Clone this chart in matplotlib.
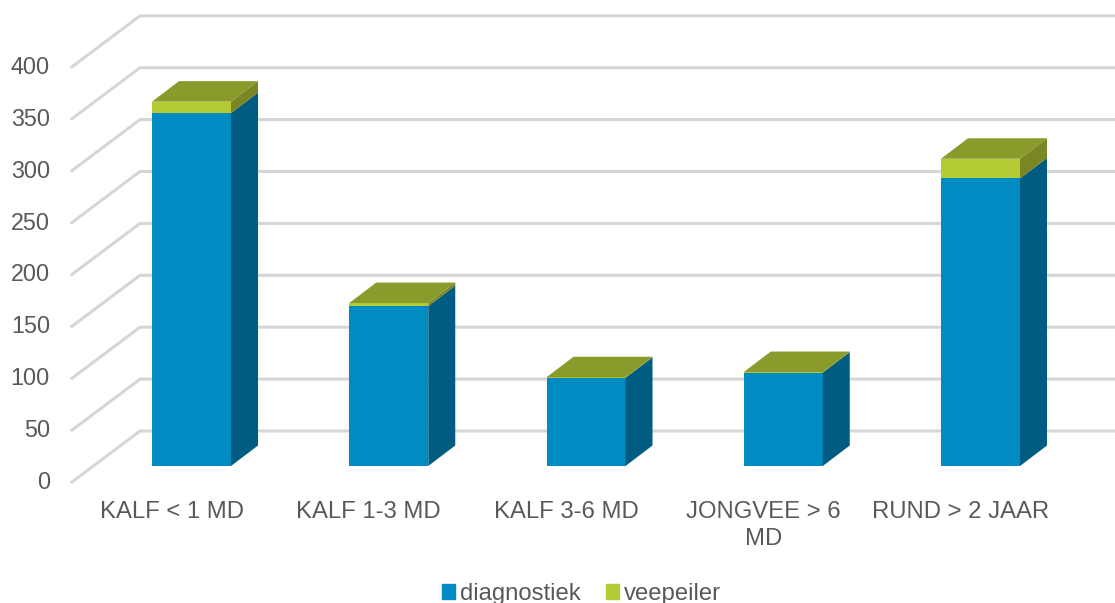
import matplotlib.pyplot as plt
from matplotlib.patches import Patch

categories = ['KALF < 1 MD', 'KALF 1-3 MD', 'KALF 3-6 MD', 'JONGVEE > 6\nMD', 'RUND > 2 JAAR']
diagnostiek = [340, 154, 85, 90, 277]
veepeiler = [11, 3, 0.5, 0.5, 19]
y_ticks = [0, 50, 100, 150, 200, 250, 300, 350, 400]

BLUE = '#008cc3'
BLUE_SIDE = '#005c80'
GREEN = '#b5cb35'
GREEN_TOP = '#8a9a2b'
GREEN_SIDE = '#7a8524'
GRID = '#d6d6d6'
TEXT = '#595959'

plt.rcParams['font.family'] = ['Liberation Sans', 'DejaVu Sans']

W, H = 1115, 603
PX_X = 197.25       # pixels per category
PX_Y = 1.038        # pixels per value unit
X0_PX = 191.5
Y0_PX = 466.0
FONT = 17.2


def dx(px):
    return px / PX_X


def dy(px):
    return px / PX_Y


fig = plt.figure(figsize=(W / 100, H / 100), dpi=100)
ax = fig.add_axes([0, 0, 1, 1])
ax.set_xlim(-X0_PX / PX_X, (W - X0_PX) / PX_X)
ax.set_ylim(-(H - Y0_PX) / PX_Y, Y0_PX / PX_Y)
ax.axis('off')

# wall and floor lines
x_front = dx(72 - X0_PX)
x_back = dx(140 - X0_PX)
x_right = dx(1115 - X0_PX)
front_off = dy(-16)
back_off = dy(35)
for v in y_ticks:
    ax.plot([x_front, x_back, x_right], [v + front_off, v + back_off, v + back_off],
            color=GRID, lw=2.2, zorder=1, solid_joinstyle='miter')
    ax.text(dx(50 - X0_PX), v + front_off - dy(0.5), str(v), ha='right', va='center',
            fontsize=FONT - 0.4, color=TEXT)

bar_w = dx(79)
depth_x = dx(27)
depth_y = dy(20.5)

for i, cat in enumerate(categories):
    d = diagnostiek[i]
    t = d + veepeiler[i]
    left = i - bar_w / 2
    right = i + bar_w / 2
    z = 3 + i
    ax.bar(i, d, width=bar_w, color=BLUE, zorder=z)
    ax.bar(i, veepeiler[i], bottom=d, width=bar_w, color=GREEN, zorder=z)
    ax.fill([right, right + depth_x, right + depth_x, right],
            [0, depth_y, d + depth_y, d], color=BLUE_SIDE, lw=0, zorder=z)
    ax.fill([right, right + depth_x, right + depth_x, right],
            [d, d + depth_y, t + depth_y, t], color=GREEN_SIDE, lw=0, zorder=z)
    ax.fill([left, left + depth_x, right + depth_x, right],
            [t, t + depth_y, t + depth_y, t], color=GREEN_TOP, lw=0, zorder=z)
    # labels sit a little left of the bars, as in a 3D office chart
    ax.text(i - dx(20), dy(-35), cat, ha='center', va='top', fontsize=FONT, color=TEXT,
            linespacing=1.3)

handles = [Patch(color=BLUE, label='diagnostiek'), Patch(color=GREEN, label='veepeiler')]
ax.legend(handles=handles, loc='center', bbox_to_anchor=(581.5 / W, 1 - 594 / H),
          bbox_transform=fig.transFigure, ncol=2, frameon=False, fontsize=FONT,
          labelcolor=TEXT, handlelength=0.54, handleheight=0.54, handletextpad=0.2,
          columnspacing=1.05, borderpad=0, borderaxespad=0)

fig.savefig('out.png', dpi=100)
